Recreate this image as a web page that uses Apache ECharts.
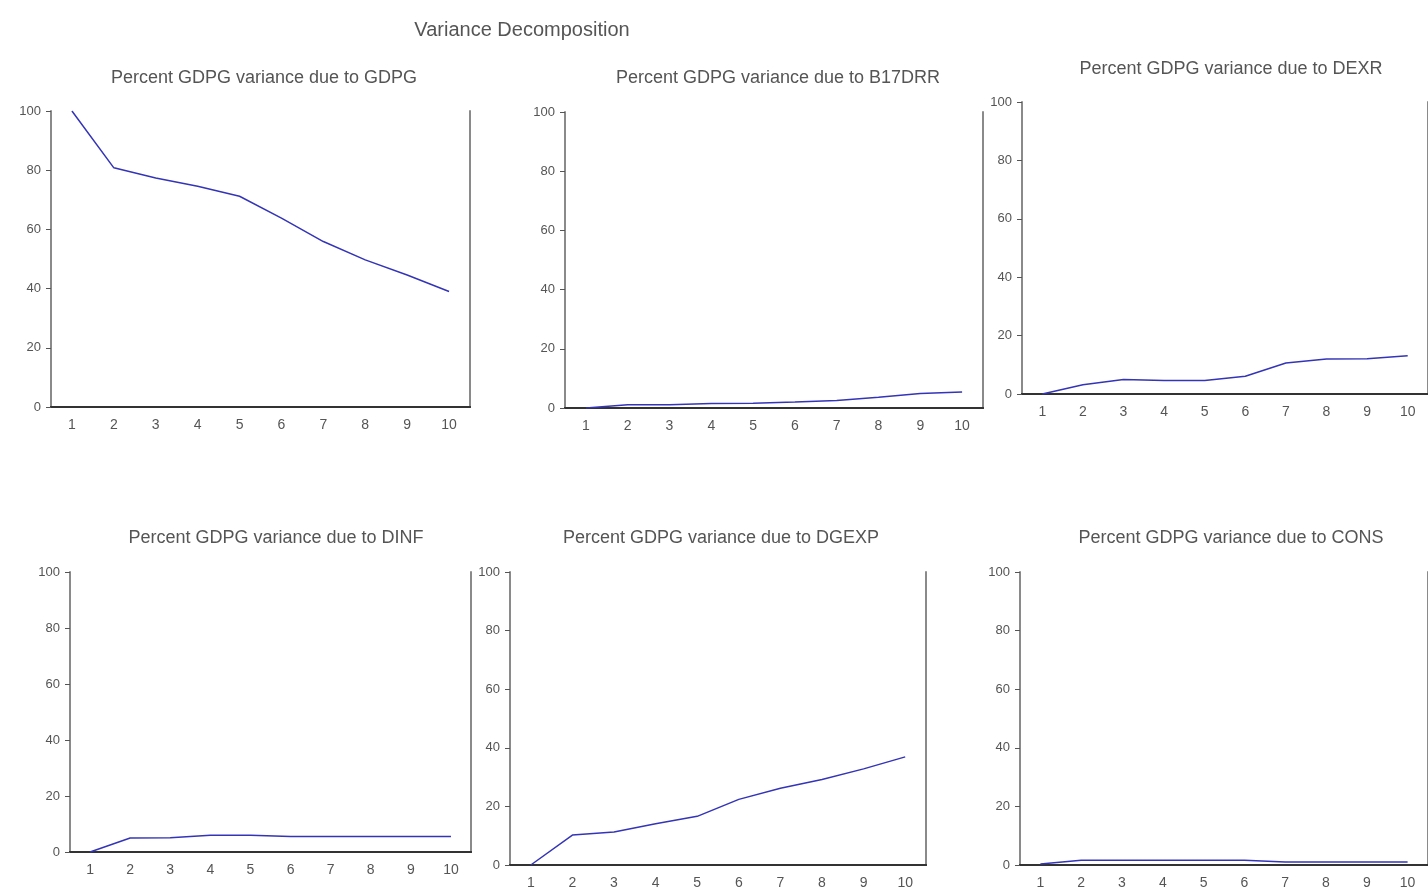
<!DOCTYPE html>
<html>
<head>
<meta charset="utf-8">
<title>Variance Decomposition</title>
<script src="https://cdn.jsdelivr.net/npm/echarts@6/dist/echarts.min.js"></script>
<style>
  html, body { margin: 0; padding: 0; background: #fff; }
  #chart { width: 1428px; height: 890px; }
</style>
</head>
<body>
<div id="chart"></div>
<script>
// forecast horizon
const periods = ['1', '2', '3', '4', '5', '6', '7', '8', '9', '10'];
const yTicks = [0, 20, 40, 60, 80, 100];

// percent of GDPG forecast-error variance explained by each shock
const gdpg   = [100, 80.8, 77.4, 74.6, 71.2, 63.8, 55.9, 49.7, 44.6, 39.0];
const b17drr = [0, 1.1, 1.1, 1.5, 1.6, 2.0, 2.5, 3.6, 4.9, 5.4];
const dexr   = [0, 3.2, 5.0, 4.6, 4.6, 6.1, 10.6, 12.0, 12.1, 13.1];
const dinf   = [0, 5.0, 5.1, 6.0, 6.0, 5.5, 5.5, 5.5, 5.5, 5.5];
const dgexp  = [0, 10.2, 11.3, 14.1, 16.6, 22.4, 26.2, 29.2, 32.8, 36.9];
const cons   = [0.3, 1.6, 1.6, 1.6, 1.6, 1.6, 1.0, 1.0, 1.0, 1.0];

const panelNames = ['GDPG', 'B17DRR', 'DEXR', 'DINF', 'DGEXP', 'CONS'];
const panelData = [gdpg, b17drr, dexr, dinf, dgexp, cons];

// layout of each small chart (pixels)
const boxes = [
  { left: 51,   top: 111, width: 419, height: 296, tx: 259,  ty: 64 },
  { left: 565,  top: 112, width: 418, height: 296, tx: 773,  ty: 64 },
  { left: 1022, top: 102, width: 410, height: 292, tx: 1226, ty: 55 },
  { left: 70,   top: 572, width: 401, height: 280, tx: 271,  ty: 524 },
  { left: 510,  top: 572, width: 416, height: 295, tx: 716,  ty: 524 },
  { left: 1020, top: 572, width: 417, height: 294, tx: 1226, ty: 524 }
];

const font = 'Liberation Sans, Arial, sans-serif';
const textColor = '#555555';
const lineColor = '#3434b8';

let grids = [], xAxes = [], yAxes = [], series = [];
let titles = [{
  text: 'Variance Decomposition',
  left: 517, top: 15, textAlign: 'center',
  textStyle: { fontFamily: font, fontSize: 20, fontWeight: 'normal', color: textColor }
}];

boxes.forEach(function (b, i) {
  grids.push({ left: b.left, top: b.top, width: b.width, height: b.height, show: false });

  titles.push({
    text: 'Percent GDPG variance due to ' + panelNames[i],
    left: b.tx, top: b.ty, textAlign: 'center',
    textStyle: { fontFamily: font, fontSize: 18, fontWeight: 'normal', color: textColor }
  });

  // bottom axis with labels
  xAxes.push({
    type: 'category', gridIndex: i, data: periods, position: 'bottom', boundaryGap: true,
    axisLine: { lineStyle: { color: '#333', width: 2 } },
    axisTick: { length: 4, lineStyle: { color: '#777' } },
    axisLabel: { fontFamily: font, fontSize: 14, color: textColor, margin: 11 },
    splitLine: { show: false }
  });
  // top frame
  xAxes.push({
    type: 'category', gridIndex: i, data: periods, position: 'top',
    axisLine: { lineStyle: { color: '#333', width: 2 } },
    axisTick: { show: false }, axisLabel: { show: false }, splitLine: { show: false }
  });
  // left axis with labels
  yAxes.push({
    type: 'value', gridIndex: i, min: 0, max: 100, interval: 20, position: 'left',
    axisLine: { show: true, lineStyle: { color: '#8a8a8a', width: 2 } },
    axisTick: { show: true, length: 5, lineStyle: { color: '#555' } },
    axisLabel: { fontFamily: font, fontSize: 13, color: textColor, margin: 10,
      customValues: yTicks },
    splitLine: { show: false }
  });
  // right frame
  yAxes.push({
    type: 'value', gridIndex: i, min: 0, max: 100, interval: 20, position: 'right',
    axisLine: { show: true, lineStyle: { color: '#8a8a8a', width: 2 } },
    axisTick: { show: false }, axisLabel: { show: false }, splitLine: { show: false }
  });

  series.push({
    type: 'line', name: panelNames[i],
    xAxisIndex: i * 2, yAxisIndex: i * 2,
    data: panelData[i],
    showSymbol: false, symbol: 'none',
    lineStyle: { color: lineColor, width: 1.5 },
    animation: false
  });
});

const chart = echarts.init(document.getElementById('chart'));
chart.setOption({
  backgroundColor: '#fff',
  animation: false,
  title: titles,
  grid: grids,
  xAxis: xAxes,
  yAxis: yAxes,
  series: series
});
</script>
</body>
</html>
